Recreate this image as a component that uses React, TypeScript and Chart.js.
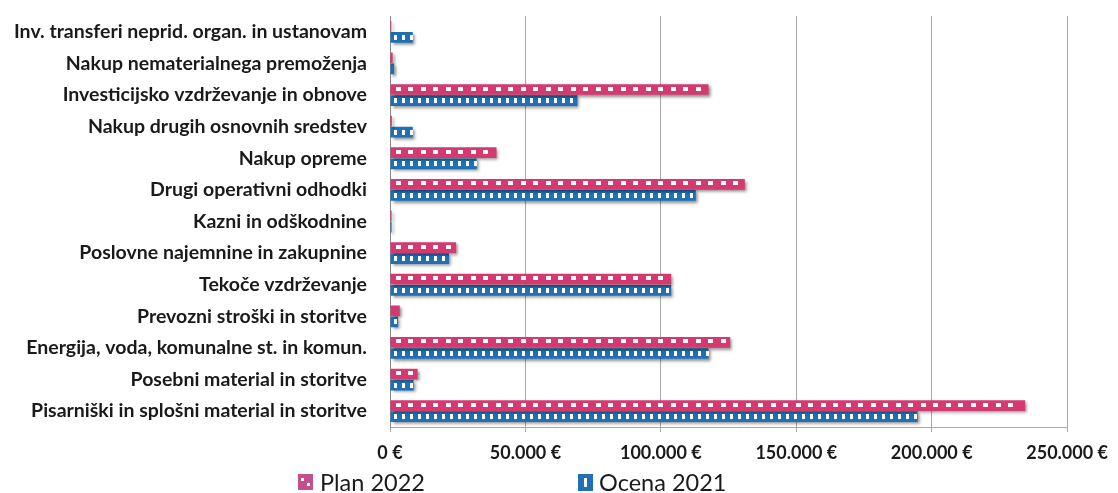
import React, { useEffect, useRef } from "react";
import { Chart, registerables } from "chart.js";

Chart.register(...registerables);

const categories = [
  "Inv. transferi neprid. organ. in ustanovam",
  "Nakup nematerialnega premoženja",
  "Investicijsko vzdrževanje in obnove",
  "Nakup drugih osnovnih sredstev",
  "Nakup opreme",
  "Drugi operativni odhodki",
  "Kazni in odškodnine",
  "Poslovne najemnine in zakupnine",
  "Tekoče vzdrževanje",
  "Prevozni stroški in storitve",
  "Energija, voda, komunalne st. in komun.",
  "Posebni material in storitve",
  "Pisarniški in splošni material in storitve",
];

const plan2022 = [500, 1000, 117600, 700, 39300, 131000, 600, 24400, 103800, 3600, 125600, 10200, 234500];
const ocena2021 = [8400, 1500, 69200, 8400, 32000, 112900, 600, 21800, 103800, 3000, 117600, 8700, 194800];

const seriesNames = ["Plan 2022", "Ocena 2021"];
const xTickLabels = ["0 €", "50.000 €", "100.000 €", "150.000 €", "200.000 €", "250.000 €"];

const PINK = "#D43A70";
const BLUE = "#1F70B4";
const FONT = "Lato, 'Open Sans', sans-serif";

const barDecor = {
  id: "barDecor",
  beforeDatasetsDraw(chart: any) {
    const ctx = chart.ctx;
    ctx.save();
    ctx.shadowColor = "rgba(0,0,0,0.45)";
    ctx.shadowOffsetX = 2;
    ctx.shadowOffsetY = 2;
    ctx.shadowBlur = 3;
  },
  afterDatasetsDraw(chart: any) {
    const ctx = chart.ctx;
    ctx.restore();
    ctx.save();
    ctx.fillStyle = "#ffffff";
    chart.data.datasets.forEach((ds: any, di: number) => {
      const meta = chart.getDatasetMeta(di);
      meta.data.forEach((el: any) => {
        const p = el.getProps(["x", "y", "base", "height"], true);
        const start = Math.min(p.x, p.base);
        const end = Math.max(p.x, p.base);
        if (di === 0) {
          for (let x = start + 5; x + 5 < end; x += 12.5) {
            ctx.fillRect(Math.round(x), Math.round(p.y - 3), 5, 4);
          }
        } else {
          for (let x = start + 3; x + 3 < end; x += 8) {
            ctx.fillRect(Math.round(x), Math.round(p.y - 2.5), 3, 5);
          }
        }
      });
    });
    ctx.restore();
  },
};

export default function App() {
  const ref = useRef<HTMLCanvasElement | null>(null);

  useEffect(() => {
    if (!ref.current) return;
    const chart = new Chart(ref.current, {
      type: "bar",
      data: {
        labels: categories,
        datasets: [
          {
            label: seriesNames[0],
            data: plan2022,
            backgroundColor: PINK,
            borderWidth: 0,
            categoryPercentage: 0.7,
            barPercentage: 0.97,
          },
          {
            label: seriesNames[1],
            data: ocena2021,
            backgroundColor: BLUE,
            borderWidth: 0,
            categoryPercentage: 0.7,
            barPercentage: 0.97,
          },
        ],
      },
      options: {
        indexAxis: "y",
        responsive: false,
        animation: false,
        layout: { padding: { top: 16, right: 42, bottom: 26, left: 0 } },
        plugins: {
          legend: { display: false },
          tooltip: { enabled: false },
        },
        scales: {
          x: {
            min: 0,
            max: 250000,
            ticks: {
              stepSize: 50000,
              color: "#1a1a1a",
              font: { family: FONT, size: 18, weight: "bold" },
              padding: 10,
              maxRotation: 0,
              callback: (_v: any, i: number) => xTickLabels[i],
            },
            grid: { color: "#a8a8a8", lineWidth: 1, tickLength: 5, drawTicks: true },
            border: { color: "#a8a8a8" },
            afterFit: (s: any) => {
              s.height = 40;
            },
          },
          y: {
            ticks: {
              color: "#1a1a1a",
              font: { family: FONT, size: 19.5, weight: "bold" },
              padding: 15,
              autoSkip: false,
            },
            grid: { display: false },
            border: { color: "#888888" },
            afterFit: (s: any) => {
              s.width = 390;
              s.paddingTop = 0;
              s.paddingBottom = 0;
            },
          },
        },
      },
      plugins: [barDecor],
    });
    return () => chart.destroy();
  }, []);

  const legendStyle: React.CSSProperties = {
    position: "absolute",
    top: 469,
    display: "flex",
    alignItems: "center",
    fontFamily: FONT,
    fontSize: 23.5,
    color: "#1a1a1a",
    lineHeight: "26px",
  };

  return (
    <div style={{ position: "fixed", left: 0, top: 0, width: 1118, height: 493, background: "#fff" }}>
      <canvas ref={ref} width={1118} height={493} style={{ display: "block" }} />
      <div style={{ ...legendStyle, left: 298 }}>
        <span
          style={{
            display: "inline-block",
            width: 15,
            height: 16,
            background: "#C2508A",
            marginRight: 7,
            position: "relative",
          }}
        >
          <span style={{ position: "absolute", left: 3, top: 4, width: 3, height: 3, background: "#fff" }} />
          <span style={{ position: "absolute", left: 9, top: 9, width: 3, height: 3, background: "#fff" }} />
        </span>
        <span>{seriesNames[0]}</span>
      </div>
      <div style={{ ...legendStyle, left: 578 }}>
        <span
          style={{
            display: "inline-block",
            width: 15,
            height: 17,
            background: BLUE,
            marginRight: 6,
            position: "relative",
          }}
        >
          <span style={{ position: "absolute", left: 6, top: 4, width: 3, height: 9, background: "#fff" }} />
        </span>
        <span>{seriesNames[1]}</span>
      </div>
    </div>
  );
}
